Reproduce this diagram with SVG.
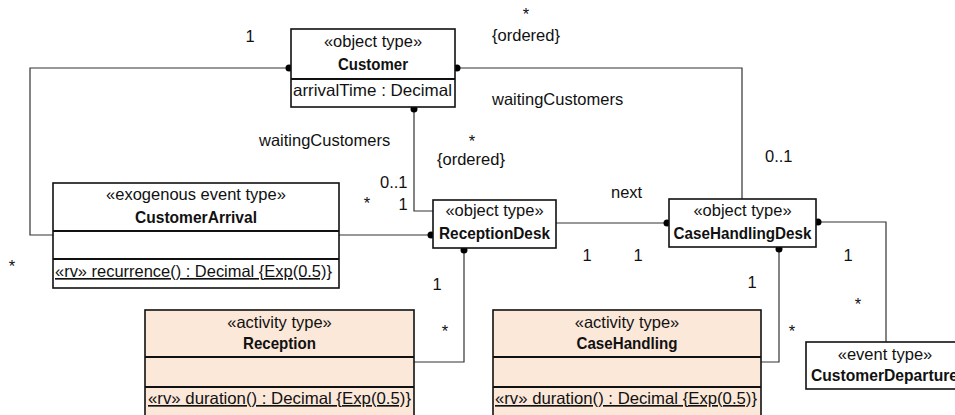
<svg xmlns="http://www.w3.org/2000/svg" width="955" height="415" viewBox="0 0 955 415">
  <style>
    text { font-family: "Liberation Sans", Arial, sans-serif; font-size: 16.5px; fill: #111; }
    .c { text-anchor: middle; }
    .b { font-weight: bold; }
    .u { text-decoration: underline; }
    .box { fill: #fff; stroke: #111; stroke-width: 1.6; }
    .act { fill: #fce8d9; stroke: #111; stroke-width: 1.6; }
    .div { stroke: #111; stroke-width: 2; }
    .con { fill: none; stroke: #333; stroke-width: 1.2; }
    .dot { fill: #000; }
  </style>

  <!-- association lines -->
  <g id="connectors">
    <!-- Customer (1) to CustomerArrival (*) -->
    <polyline class="con" points="291,68 30,68 30,235 53,235"/>
    <circle class="dot" cx="289" cy="68" r="3.5"/>
    <!-- Customer waitingCustomers to CaseHandlingDesk -->
    <polyline class="con" points="455,68 742,68 742,199"/>
    <circle class="dot" cx="457" cy="68" r="3.5"/>
    <!-- Customer waitingCustomers to ReceptionDesk -->
    <polyline class="con" points="414,107 414,211 433,211"/>
    <circle class="dot" cx="414" cy="109" r="3.5"/>
    <!-- CustomerArrival to ReceptionDesk -->
    <line class="con" x1="339" y1="235" x2="433" y2="235"/>
    <circle class="dot" cx="431" cy="235" r="3.5"/>
    <!-- ReceptionDesk next CaseHandlingDesk -->
    <line class="con" x1="556" y1="223" x2="669" y2="223"/>
    <circle class="dot" cx="667" cy="223" r="3.5"/>
    <!-- ReceptionDesk to Reception -->
    <polyline class="con" points="464,248 464,362 414,362"/>
    <circle class="dot" cx="464" cy="250" r="3.5"/>
    <!-- CaseHandlingDesk to CaseHandling -->
    <polyline class="con" points="779,247 779,362 761,362"/>
    <circle class="dot" cx="779" cy="249" r="3.5"/>
    <!-- CaseHandlingDesk to CustomerDeparture -->
    <polyline class="con" points="816,222 886,222 886,342"/>
    <circle class="dot" cx="818" cy="222" r="3.5"/>
  </g>

  <!-- multiplicities and role names -->
  <g id="labels">
    <text class="c" x="250" y="42">1</text>
    <text class="c" x="526" y="20">*</text>
    <text class="c" x="526" y="41">{ordered}</text>
    <text x="492" y="105">waitingCustomers</text>
    <text x="765" y="162">0..1</text>
    <text x="259" y="146">waitingCustomers</text>
    <text class="c" x="472" y="147">*</text>
    <text x="437" y="165">{ordered}</text>
    <text x="380" y="188">0..1</text>
    <text class="c" x="403" y="210">1</text>
    <text class="c" x="367" y="209">*</text>
    <text class="c" x="12" y="272">*</text>
    <text class="c" x="437" y="290">1</text>
    <text class="c" x="445" y="337">*</text>
    <text x="611" y="198">next</text>
    <text class="c" x="587" y="261">1</text>
    <text class="c" x="638" y="261">1</text>
    <text class="c" x="848" y="261">1</text>
    <text class="c" x="752" y="288">1</text>
    <text class="c" x="858" y="310">*</text>
    <text class="c" x="792" y="337">*</text>
  </g>

  <g id="Customer">
    <rect class="box" x="291" y="29" width="164" height="78"/>
    <line class="div" x1="291" y1="79" x2="455" y2="79"/>
    <text class="c" x="373" y="47">«object type»</text>
    <text class="c b" x="373" y="70" textLength="70" lengthAdjust="spacingAndGlyphs">Customer</text>
    <text x="293" y="96" textLength="159" lengthAdjust="spacingAndGlyphs">arrivalTime : Decimal</text>
  </g>

  <g id="CustomerArrival">
    <rect class="box" x="53" y="183" width="286" height="105"/>
    <line class="div" x1="53" y1="231" x2="339" y2="231"/>
    <line class="div" x1="53" y1="259" x2="339" y2="259"/>
    <text class="c" x="196" y="200">«exogenous event type»</text>
    <text class="c b" x="196" y="223" textLength="122" lengthAdjust="spacingAndGlyphs">CustomerArrival</text>
    <text class="u" x="55" y="277" textLength="277" lengthAdjust="spacingAndGlyphs">«rv» recurrence() : Decimal {Exp(0.5)}</text>
  </g>

  <g id="ReceptionDesk">
    <rect class="box" x="433" y="200" width="123" height="48"/>
    <text class="c" x="494.5" y="216">«object type»</text>
    <text class="c b" x="494.5" y="239" textLength="111" lengthAdjust="spacingAndGlyphs">ReceptionDesk</text>
  </g>

  <g id="CaseHandlingDesk">
    <rect class="box" x="669" y="199" width="147" height="48"/>
    <text class="c" x="742.5" y="216">«object type»</text>
    <text class="c b" x="742.5" y="239" textLength="138" lengthAdjust="spacingAndGlyphs">CaseHandlingDesk</text>
  </g>

  <g id="Reception">
    <rect class="act" x="145" y="310" width="269" height="108"/>
    <line class="div" x1="145" y1="357" x2="414" y2="357"/>
    <line class="div" x1="145" y1="387" x2="414" y2="387"/>
    <text class="c" x="279.5" y="328">«activity type»</text>
    <text class="c b" x="279.5" y="349" textLength="73" lengthAdjust="spacingAndGlyphs">Reception</text>
    <text class="u" x="148" y="404" textLength="263" lengthAdjust="spacingAndGlyphs">«rv» duration() : Decimal {Exp(0.5)}</text>
  </g>

  <g id="CaseHandling">
    <rect class="act" x="493" y="310" width="268" height="108"/>
    <line class="div" x1="493" y1="357" x2="761" y2="357"/>
    <line class="div" x1="493" y1="387" x2="761" y2="387"/>
    <text class="c" x="627" y="328">«activity type»</text>
    <text class="c b" x="627" y="349" textLength="101" lengthAdjust="spacingAndGlyphs">CaseHandling</text>
    <text class="u" x="495" y="404" textLength="262" lengthAdjust="spacingAndGlyphs">«rv» duration() : Decimal {Exp(0.5)}</text>
  </g>

  <g id="CustomerDeparture">
    <rect class="box" x="806" y="342" width="160" height="47"/>
    <text class="c" x="885" y="360">«event type»</text>
    <text class="b" x="811" y="381" textLength="147" lengthAdjust="spacingAndGlyphs">CustomerDeparture</text>
  </g>
</svg>
